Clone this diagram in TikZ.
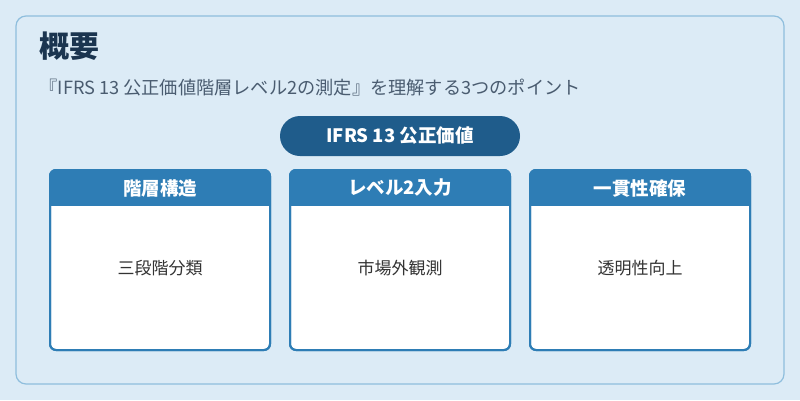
\documentclass[tikz,border=0pt]{standalone}
\usepackage{fontspec}
\setmainfont{Noto Sans CJK JP}
\begin{document}
\begin{tikzpicture}[x=1pt,y=-1pt,
  card/.style={draw=hdr,line width=2pt,fill=white,rounded corners=6pt},
  hdrtxt/.style={text=white,font=\fontsize{18.5}{22}\selectfont\bfseries},
  bodytxt/.style={text=black!80,font=\fontsize{17}{20}\selectfont}]
\definecolor{bg}{HTML}{DCEBF6}
\definecolor{bd}{HTML}{8FBEDD}
\definecolor{hdr}{HTML}{2E7DB5}
\definecolor{pill}{HTML}{1F5C8B}
\definecolor{ttl}{HTML}{1B3550}
\definecolor{sub}{HTML}{4A5C70}
\fill[bg] (0,0) rectangle (800,400);
\useasboundingbox (0,0) rectangle (800,400);
\draw[bd,fill=bg,line width=1.2pt,rounded corners=10pt] (16,16) rectangle (784,384);
\node[anchor=west,text=ttl,font=\fontsize{30}{34}\selectfont\bfseries] (title) at (36,46) {概要};
\node[anchor=west,text=sub,font=\fontsize{18.2}{21}\selectfont] (subtitle) at (36,88) {『IFRS 13 公正価値階層レベル2の測定』を理解する3つのポイント};
\node[fill=pill,rounded corners=20pt,minimum width=240pt,minimum height=40pt,text=white,font=\fontsize{18.5}{22}\selectfont\bfseries] (core) at (400,136) {IFRS 13 公正価値};
\foreach \x/\n/\h/\b in {50/a/階層構造/三段階分類,290/b/レベル2入力/市場外観測,530/c/一貫性確保/透明性向上}{
  \draw[card] (\x,170) rectangle ++(220,180);
  \begin{scope}
  \clip[rounded corners=6pt] (\x,170) rectangle ++(220,180);
  \fill[hdr] (\x,170) rectangle ++(220,36);
  \end{scope}
  \draw[hdr,line width=2pt,rounded corners=6pt] (\x,170) rectangle ++(220,180);
  \node[hdrtxt] (h\n) at (\x+110,188) {\h};
  \node[bodytxt] (b\n) at (\x+110,268) {\b};
}
\end{tikzpicture}
\end{document}
